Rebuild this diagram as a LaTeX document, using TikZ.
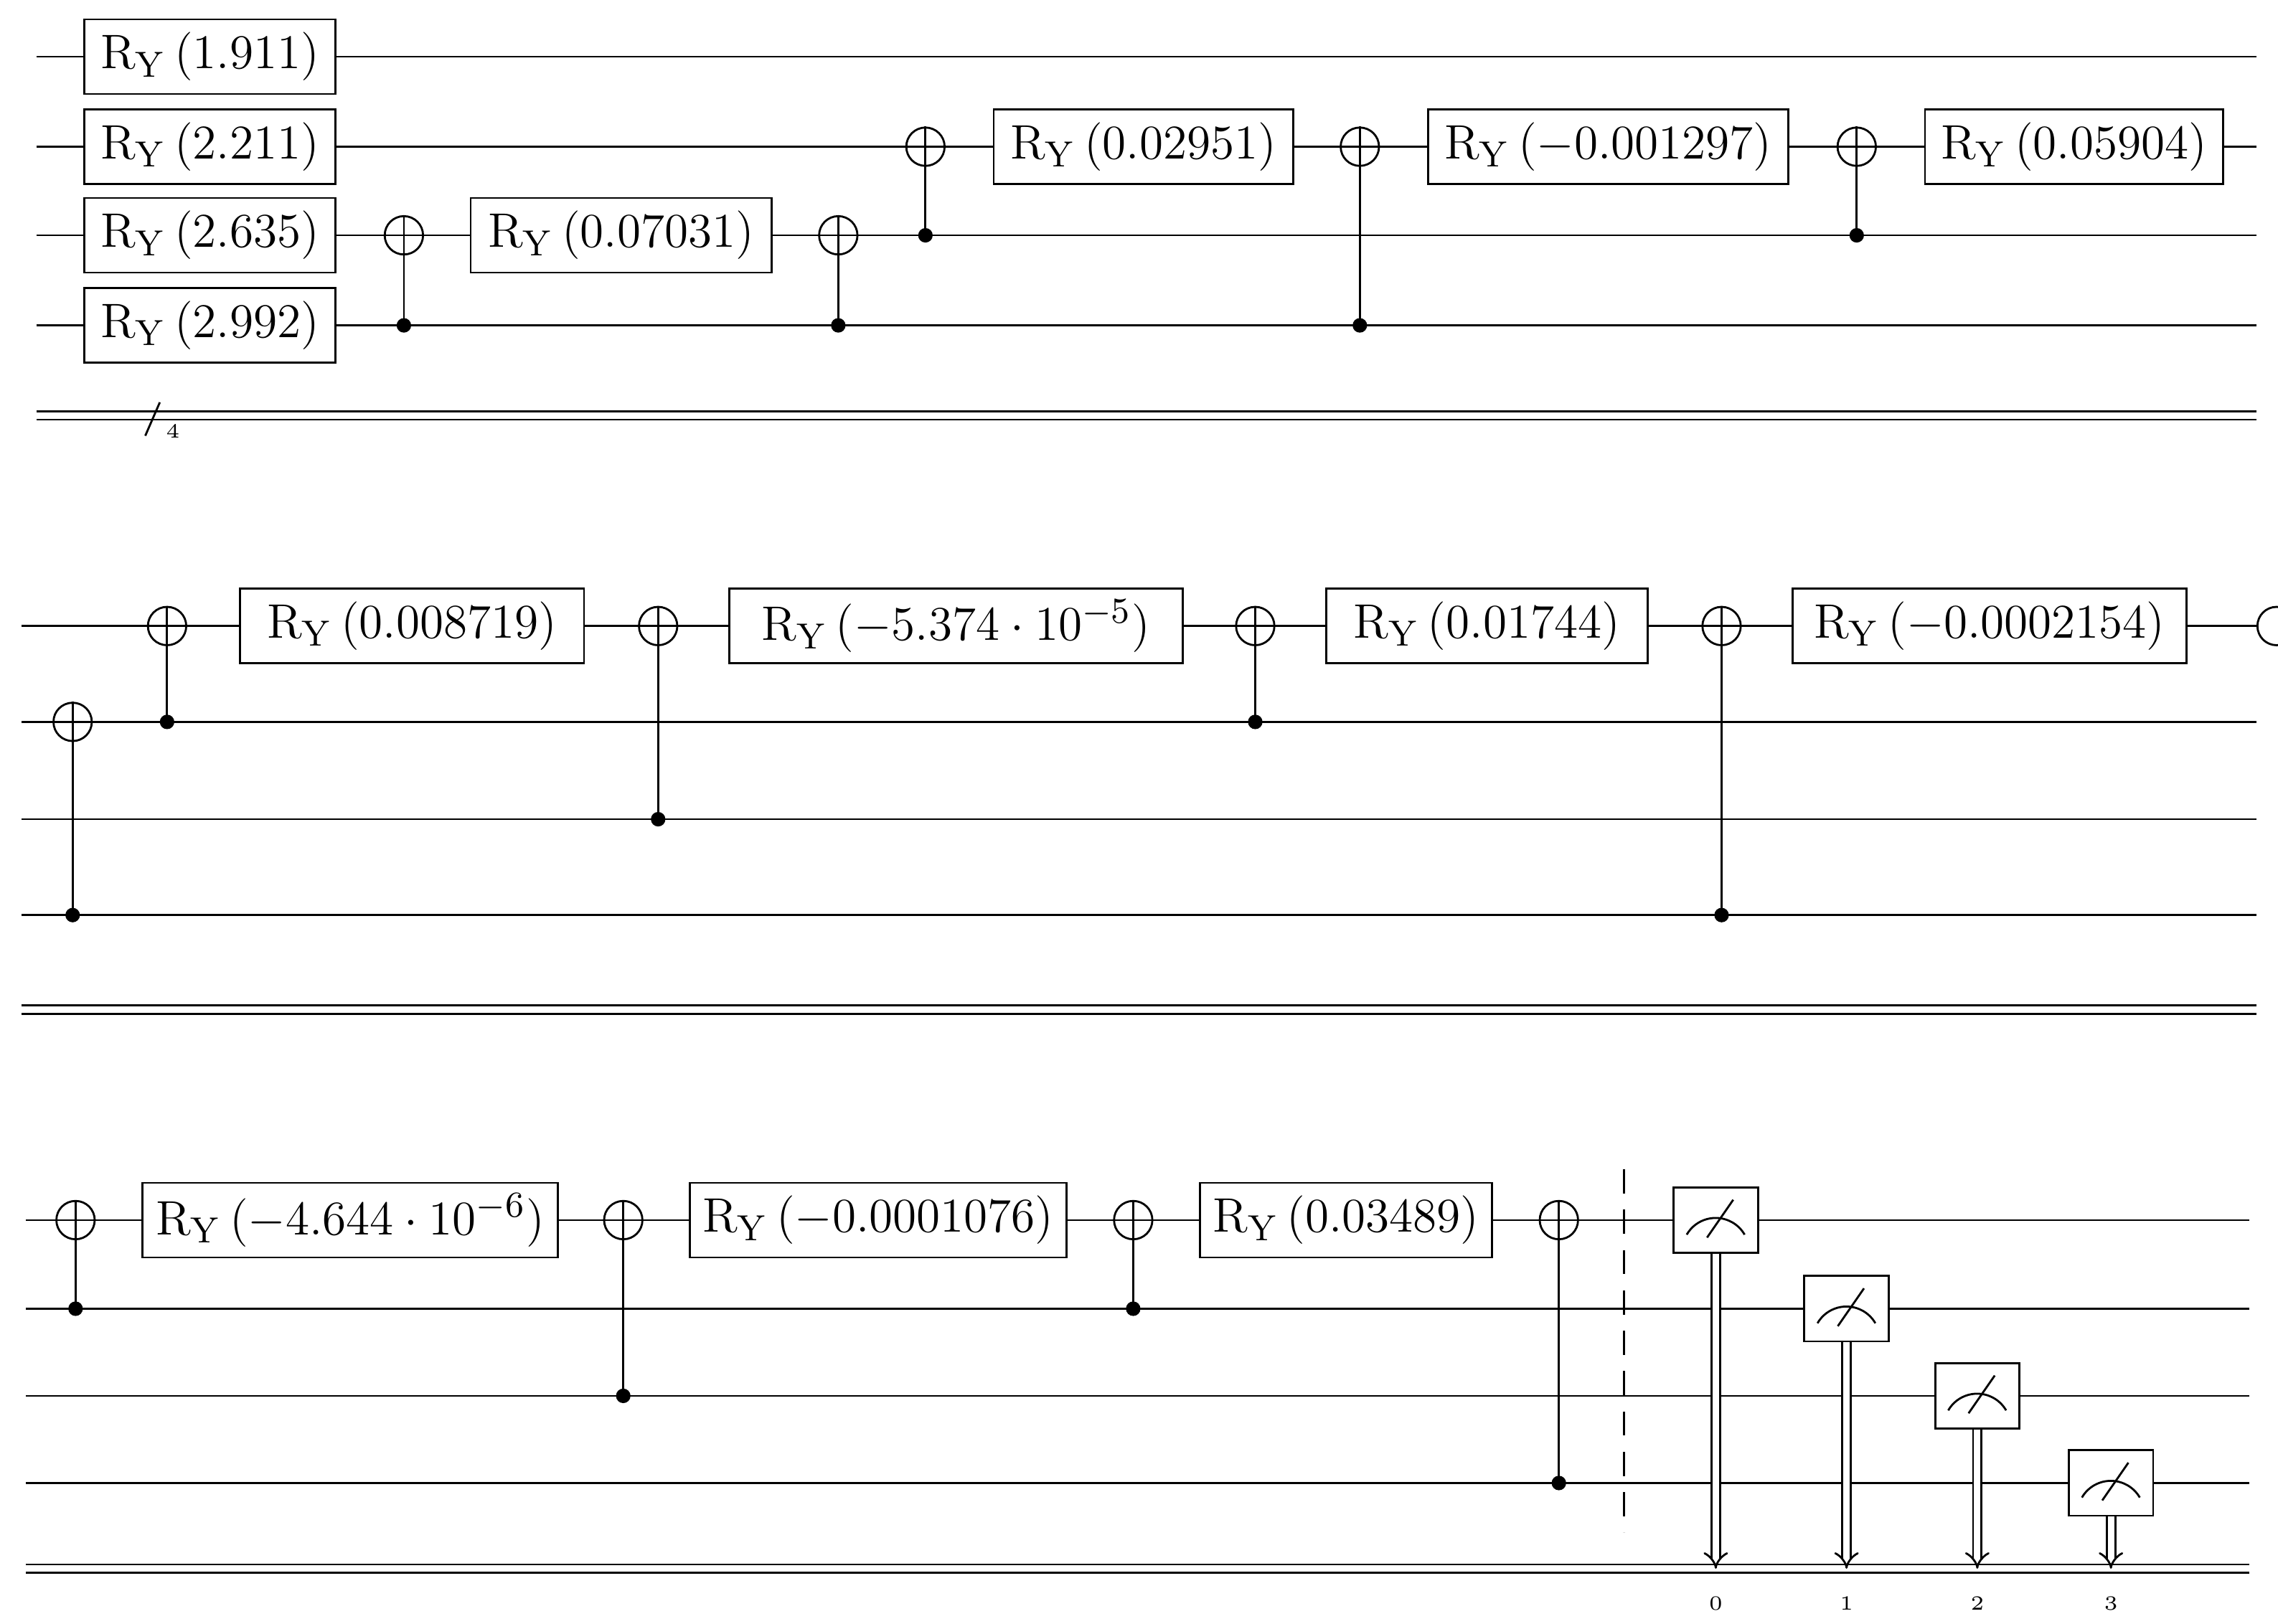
\documentclass[tikz,border=0pt]{standalone}
\usetikzlibrary{arrows.meta}
\begin{document}
\begin{tikzpicture}[x=0.36pt,y=-0.36pt,line width=0.5pt,
  gate/.style={draw,fill=white,rectangle,minimum height=18.5pt,inner sep=2pt,font=\fontsize{13.2}{15}\selectfont},
  targ/.style={draw,fill=white,circle,minimum size=9.5pt,inner sep=0pt},
  ctrl/.style={fill,circle,minimum size=3.6pt,inner sep=0pt},
  meter/.style={draw,fill=white,rectangle,minimum width=20.9pt,minimum height=16.2pt,inner sep=0pt},
  cw/.style={double,double distance=1.6pt,line width=0.5pt}]
\useasboundingbox (0,0) rectangle (1568,1118);
\clip (0,0) rectangle (1568,1118);
% wires
\foreach \y in {39,101,162,224} \draw (25,\y) -- (1553,\y);
\foreach \y in {431,497,564,630} \draw (15,\y) -- (1553,\y);
\draw (1553,431) -- (1568,431);
\foreach \y in {840,901,961,1021} \draw (18,\y) -- (1548,\y);
\draw[cw] (25,286) -- (1553,286);
\draw[cw] (15,695) -- (1553,695);
\draw[cw] (18,1080) -- (1548,1080);
\draw (100,300) -- (110,277);
\node[font=\tiny] (n4) at (119,297) {4};
\newcommand{\mycnot}[4]{%
  \node[ctrl] (#1c) at (#2,#4) {};
  \draw (#1c.center) -- (#2,#3);
  \node[targ] (#1t) at (#2,#3) {};
  \draw (#1t.north) -- (#1t.south) (#1t.west) -- (#1t.east);}
\newcommand{\ryl}[5]{\node[gate,minimum width=#3*0.36pt] (#1) at (#2,#4) {$\mathrm{R_Y}\,(#5)$};}
% section 1
\ryl{g1}{144.5}{173}{39}{1.911}
\ryl{g2}{144.5}{173}{101}{2.211}
\ryl{g3}{144.5}{173}{162}{2.635}
\ryl{g4}{144.5}{173}{224}{2.992}
\mycnot{a1}{278}{162}{224}
\ryl{g5}{427.5}{207}{162}{0.07031}
\mycnot{a2}{577}{162}{224}
\mycnot{a3}{637}{101}{162}
\ryl{g6}{787}{206}{101}{0.02951}
\mycnot{a4}{936}{101}{224}
\ryl{g7}{1107}{248}{101}{-0.001297}
\mycnot{a5}{1278}{101}{162}
\ryl{g8}{1427.5}{205}{101}{0.05904}
% section 2
\mycnot{b1}{50}{497}{630}
\mycnot{b2}{115}{431}{497}
\ryl{h1}{283.5}{237}{431}{0.008719}
\mycnot{b3}{453}{431}{564}
\ryl{h2}{658}{312}{431}{-5.374\cdot 10^{-5}}
\mycnot{b4}{864}{431}{497}
\ryl{h3}{1023.5}{221}{431}{0.01744}
\mycnot{b5}{1185}{431}{630}
\ryl{h4}{1369.5}{271}{431}{-0.0002154}
\node[targ] (b6) at (1567,431) {};
% section 3
\mycnot{c1}{52}{840}{901}
\ryl{k1}{241}{286}{840}{-4.644\cdot 10^{-6}}
\mycnot{c2}{429}{840}{961}
\ryl{k2}{604.5}{259}{840}{-0.0001076}
\mycnot{c3}{780}{840}{901}
\ryl{k3}{926.5}{201}{840}{0.03489}
\mycnot{c4}{1073}{840}{1021}
\draw[dash pattern=on 6pt off 4pt] (1118,805) -- (1118,1055);
\foreach \i/\x/\y in {0/1181/840,1/1271/901,2/1361/961,3/1453/1021}{
  \node[meter] (m\i) at (\x,\y) {};
  \draw ([shift={(-20,10)}]m\i.center) arc[start angle=150,end angle=30,radius=23*0.36pt];
  \draw ([shift={(-6,12)}]m\i.center) -- ([shift={(12,-14)}]m\i.center);
  \draw[cw,-{Implies}] (m\i.south) -- (\x,1080);
  \node[font=\tiny] (l\i) at (\x,1104) {\i};
}
\end{tikzpicture}
\end{document}
